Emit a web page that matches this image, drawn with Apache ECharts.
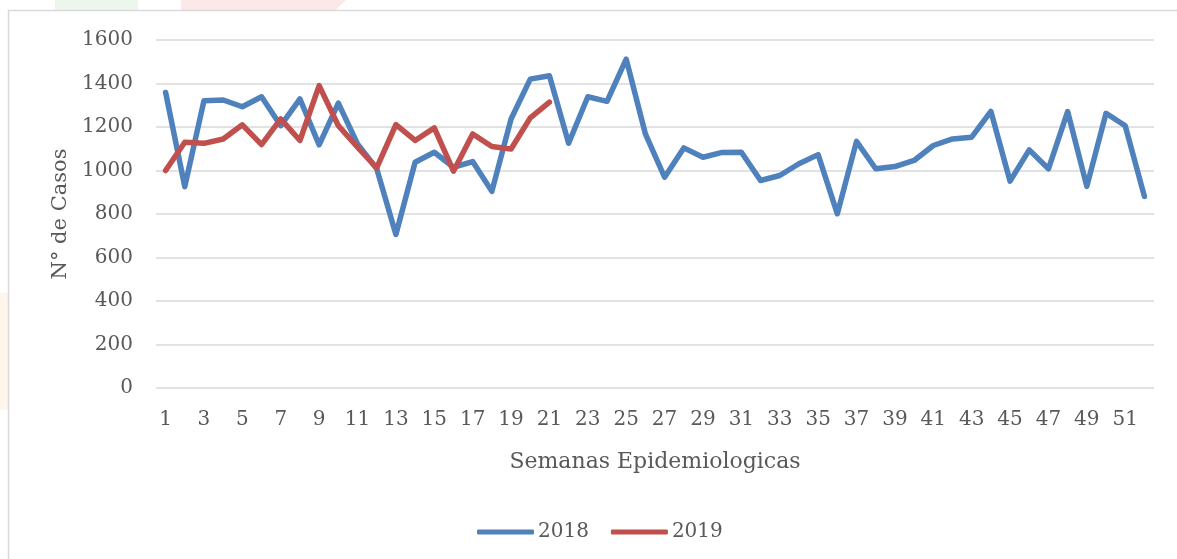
<!DOCTYPE html>
<html>
<head>
<meta charset="utf-8">
<script src="https://cdn.jsdelivr.net/npm/echarts@6/dist/echarts.min.js"></script>
<style>
  html, body { margin: 0; padding: 0; background: #fff; }
  #chart { width: 1177px; height: 559px; }
</style>
</head>
<body>
<div id="chart"></div>
<script>
// colores (tema Office)
const BLUE = '#4F81BD';
const RED = '#C0504D';
const TEXT_COLOR = '#595959';
const GRID_COLOR = '#D9D9D9';
const FONT = 'DejaVu Serif';

// semanas epidemiologicas 1..52
const semanas = ['1','2','3','4','5','6','7','8','9','10','11','12','13','14','15','16','17','18','19','20',
  '21','22','23','24','25','26','27','28','29','30','31','32','33','34','35','36','37','38','39','40',
  '41','42','43','44','45','46','47','48','49','50','51','52'];

const casos2018 = [1359, 926, 1321, 1324, 1293, 1339, 1206, 1329, 1118, 1310,
  1122, 1008, 706, 1038, 1084, 1015, 1041, 904, 1237, 1420,
  1436, 1125, 1339, 1318, 1512, 1168, 969, 1104, 1061, 1083,
  1084, 954, 977, 1031, 1073, 801, 1134, 1008, 1018, 1046,
  1115, 1145, 1153, 1272, 951, 1095, 1008, 1271, 927, 1263,
  1206, 881];

const casos2019 = [1000, 1130, 1125, 1145, 1210, 1119, 1237, 1138, 1390, 1206,
  1107, 1012, 1211, 1138, 1196, 997, 1168, 1110, 1099, 1242,
  1314];

const yTicks = [0, 200, 400, 600, 800, 1000, 1200, 1400, 1600];

const chart = echarts.init(document.getElementById('chart'));

const lineSeries = (name, data, color) => ({
  name,
  type: 'line',
  data,
  symbol: 'none',
  lineStyle: { color, width: 5.5, cap: 'round', join: 'round' },
  itemStyle: { color }
});

const option = {
  backgroundColor: '#fff',
  animation: false,
  textStyle: { fontFamily: FONT, color: TEXT_COLOR },
  grid: { left: 156, right: 23, top: 40, bottom: 171 },
  graphic: [
    // marcas de agua del documento
    { type: 'rect', shape: { x: 55, y: 0, width: 83, height: 10 },
      style: { fill: 'rgba(200,230,200,0.35)' }, silent: true },
    { type: 'polygon', shape: { points: [[181, 0], [346, 0], [336, 10], [181, 10]] },
      style: { fill: 'rgba(245,190,190,0.35)' }, silent: true },
    { type: 'rect', shape: { x: 0, y: 293, width: 8, height: 117 },
      style: { fill: 'rgba(253,235,215,0.5)' }, silent: true },
    // borde del grafico
    { type: 'rect', shape: { x: 8.5, y: 10.5, width: 1200, height: 600 },
      style: { fill: 'none', stroke: GRID_COLOR, lineWidth: 1.5 }, silent: true }
  ],
  legend: {
    data: ['2018', '2019'],
    bottom: 12,
    left: 472,
    icon: 'roundRect',
    itemWidth: 57,
    itemHeight: 5,
    itemGap: 22,
    textStyle: { fontFamily: FONT, fontSize: 20, color: TEXT_COLOR, padding: [0, 0, 0, -1] }
  },
  xAxis: {
    type: 'category',
    data: semanas,
    boundaryGap: true,
    name: 'Semanas Epidemiologicas',
    nameLocation: 'middle',
    nameGap: 63,
    nameTextStyle: { fontFamily: FONT, fontSize: 22, color: TEXT_COLOR },
    axisLine: { show: false },
    axisTick: { show: false },
    axisLabel: { interval: 1, fontSize: 20, color: TEXT_COLOR, margin: 22, fontFamily: FONT }
  },
  yAxis: {
    type: 'value',
    min: 0,
    max: 1600,
    interval: 200,
    name: 'N° de Casos',
    nameLocation: 'middle',
    nameGap: 83,
    nameTextStyle: { fontFamily: FONT, fontSize: 21, color: TEXT_COLOR },
    axisLine: { show: false },
    axisTick: { show: false },
    axisLabel: {
      fontSize: 20, color: TEXT_COLOR, margin: 23, fontFamily: FONT,
      formatter: (v) => yTicks.includes(v) ? String(v) : ''
    },
    splitLine: { lineStyle: { color: GRID_COLOR, width: 1.5 } }
  },
  series: [
    lineSeries('2018', casos2018, BLUE),
    lineSeries('2019', casos2019, RED)
  ]
};

chart.setOption(option);
</script>
</body>
</html>
